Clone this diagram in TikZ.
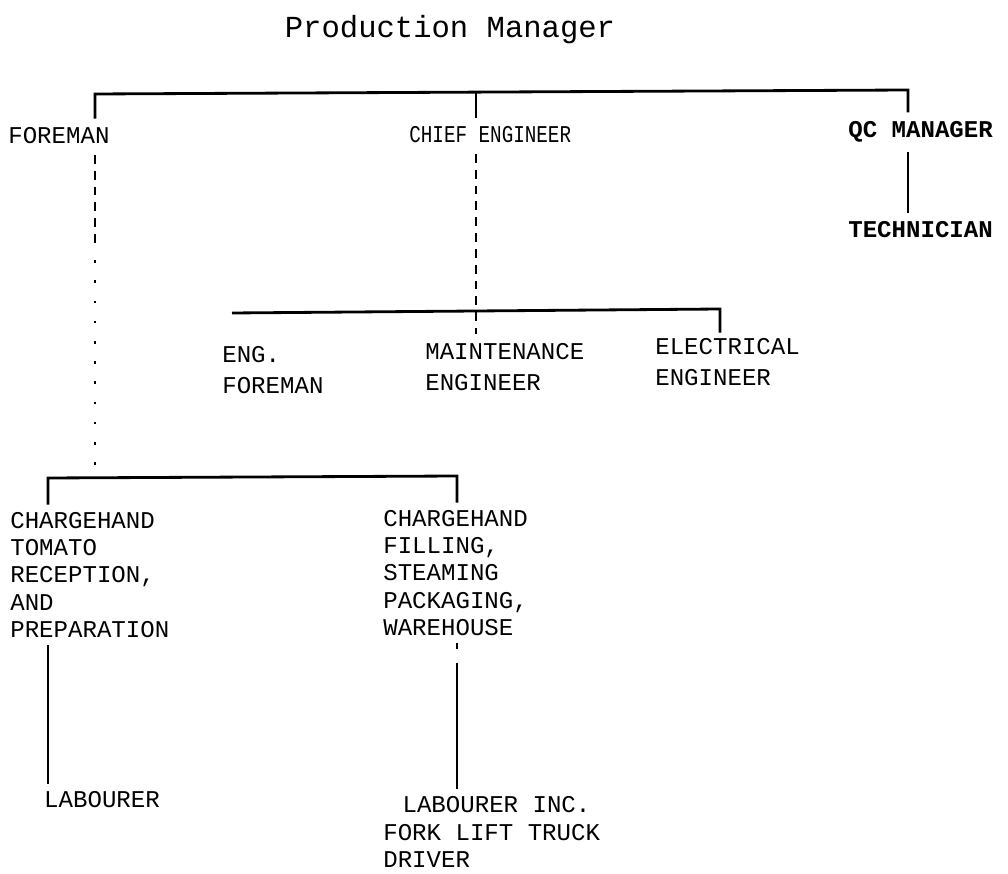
\documentclass[tikz,border=0pt]{standalone}
\usepackage{fontspec}
\usepackage{graphicx}
\setmonofont{Liberation Mono}
\usepackage{tikz}
\usetikzlibrary{positioning,calc}

\tikzset{
  post/.style={font=\ttfamily\fontsize{13.7}{15.6}\selectfont, inner sep=0pt, align=left, anchor=west},
  boldpost/.style={post, font=\ttfamily\bfseries\fontsize{13.7}{15.6}\selectfont},
  headline/.style={font=\ttfamily\fontsize{17.4}{20}\selectfont, inner sep=0pt},
  bar/.style={line width=1.6pt},
  stub/.style={line width=1.1pt},
  gap/.style={line width=0.6pt, dash pattern=on 5pt off 4pt},
  dots/.style={line width=0.6pt, dash pattern=on 1.5pt off 10pt},
}

\begin{document}
\begin{tikzpicture}[x=0.02cm, y=-0.02cm]
\useasboundingbox (0,0) rectangle (1008,874);

% top row
\node[headline] (pm) at (450,30) {Production Manager};
\node[post] (foreman) at (8,136) {FOREMAN};
\node[post] (chief) at (409,135) {\scalebox{0.8}[1]{CHIEF ENGINEER}};
\node[boldpost] (qc) at (848,132) {QC MANAGER};
\node[boldpost] (tech) at (848,230) {TECHNICIAN};

% engineers
\node[post] (engfm) at (222,370) {ENG.\\[2pt]FOREMAN};
\node[post] (maint) at (425,367) {MAINTENANCE\\[2pt]ENGINEER};
\node[post] (elec) at (655,362) {ELECTRICAL\\[2pt]ENGINEER};

% chargehands
\node[post] (chtom) at (10,575) {CHARGEHAND\\TOMATO\\RECEPTION,\\AND\\PREPARATION};
\node[post] (chfill) at (383,573) {CHARGEHAND\\FILLING,\\STEAMING\\PACKAGING,\\WAREHOUSE};
\node[post] (labtom) at (15,800) {\phantom{0}\ LABOURER};
\node[post] (labfill) at (383,832) {\hspace{0.8em}LABOURER INC.\\FORK LIFT TRUCK\\DRIVER};

% junctions
\coordinate (tl) at (95,94);
\coordinate (tm) at (476,93);
\coordinate (tr) at (908,90);
\coordinate (fm) at (95,240);
\coordinate (el) at (232,313);
\coordinate (em) at (476,312);
\coordinate (er) at (720,309);
\coordinate (ll) at (48,478);
\coordinate (lm) at (95,477);
\coordinate (lr) at (457,476);

% lines
\draw[bar, shorten <=5pt, shorten >=5pt] (tl |- foreman.north) -- (tl) -- (tr) -- (tr |- qc.north);
\draw[stub, shorten >=5pt] (tm) -- (tm |- chief.north);
\draw[bar, shorten <=5pt, shorten >=5pt] (qc.south -| tr) -- (tech.north -| tr);

\draw[gap, shorten <=6pt] (chief.south -| em) -- (em);
\draw[bar, shorten >=3pt] (el) -- (er) -- (er |- elec.north);
\draw[gap, shorten >=5pt] (em) -- (em |- maint.north);

\draw[gap, shorten <=6pt] (foreman.south -| tl) -- (fm);
\draw[dots] (fm) -- (lm);
\draw[bar, shorten <=4pt, shorten >=4pt] (ll |- chtom.north) -- (ll) -- (lr) -- (lr |- chfill.north);
\draw[stub, shorten <=4pt, shorten >=4pt] (chtom.south -| ll) -- (labtom.north -| ll);
\draw[stub, shorten <=4pt, shorten >=4pt, dash pattern=on 3pt off 8pt on 200pt] (chfill.south -| lr) -- (labfill.north -| lr);
\end{tikzpicture}
\end{document}
